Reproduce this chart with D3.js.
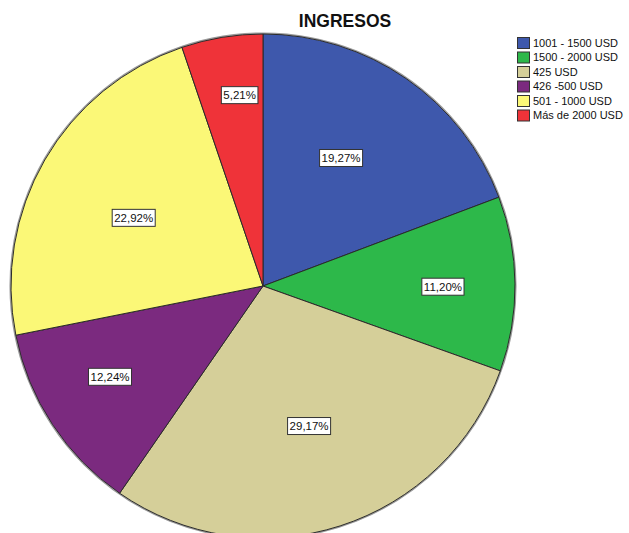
<!DOCTYPE html>
<html>
<head>
<meta charset="utf-8">
<script src="https://cdn.jsdelivr.net/npm/d3@7"></script>
<style>
  html, body { margin: 0; padding: 0; background: #fff; }
  svg { display: block; }
</style>
</head>
<body>
<svg id="chart" width="629" height="533"></svg>
<script>
// Income brackets, in clockwise drawing order starting at 12 o'clock
const categories = ["1001 - 1500 USD", "1500 - 2000 USD", "425 USD", "426 -500 USD", "501 - 1000 USD", "Más de 2000 USD"];
const percentages = [19.27, 11.20, 29.17, 12.24, 22.92, 5.21];
const colors = ["#3E58AC", "#2DB84A", "#D5CF99", "#7B2A7F", "#FBF877", "#EF3339"];

// Legend listing order
const legendOrder = ["1001 - 1500 USD", "1500 - 2000 USD", "425 USD", "426 -500 USD", "501 - 1000 USD", "Más de 2000 USD"];

// Label placement: distance from the centre (share of radius) and a small angular nudge (degrees)
const labelRadius = [0.595, 0.714, 0.585, 0.706, 0.58, 0.763];
const labelNudge = [-3.3, 0.7, -0.4, 2.6, -2.2, 2.4];

const svg = d3.select("#chart");
const cx = 263, cy = 286, R = 252;

const color = d3.scaleOrdinal().domain(categories).range(colors);

const slices = categories.map((c, i) => ({ cat: c, value: percentages[i], lr: labelRadius[i], ln: labelNudge[i] }));

const pie = d3.pie().value(d => d.value).sort(null);
const arc = d3.arc().innerRadius(0).outerRadius(R);
const arcs = pie(slices);

const g = svg.append("g").attr("transform", `translate(${cx},${cy})`);

// soft outer shadow along the rim
g.append("circle")
  .attr("r", R + 0.8)
  .attr("fill", "none")
  .attr("stroke", "#999")
  .attr("stroke-width", 1.5);

g.selectAll("path.slice")
  .data(arcs)
  .join("path")
  .attr("class", "slice")
  .attr("d", arc)
  .attr("fill", d => color(d.data.cat))
  .attr("stroke", "#2a2a2a")
  .attr("stroke-width", 1)
  .attr("stroke-linejoin", "round");

const fmt = v => v.toFixed(2).replace(".", ",") + "%";

const labels = g.selectAll("g.lbl")
  .data(arcs)
  .join("g")
  .attr("class", "lbl")
  .attr("transform", d => {
    const a = (d.startAngle + d.endAngle) / 2 + d.data.ln * Math.PI / 180;
    const r = R * d.data.lr;
    return `translate(${r * Math.sin(a)},${-r * Math.cos(a)})`;
  });

labels.each(function(d) {
  const s = d3.select(this);
  const t = s.append("text")
    .attr("text-anchor", "middle")
    .attr("dy", "0.35em")
    .attr("font-family", "Arial, 'Liberation Sans', sans-serif")
    .attr("font-size", 11.5)
    .attr("fill", "#111")
    .text(fmt(d.data.value));
  const bb = t.node().getBBox();
  s.insert("rect", "text")
    .attr("x", bb.x - 2)
    .attr("y", -8.5)
    .attr("width", bb.width + 4)
    .attr("height", 17)
    .attr("fill", "#fff")
    .attr("stroke", "#333")
    .attr("stroke-width", 1);
});

// Title
svg.append("text")
  .attr("x", 345)
  .attr("y", 27)
  .attr("text-anchor", "middle")
  .attr("font-family", "Arial, 'Liberation Sans', sans-serif")
  .attr("font-weight", "bold")
  .attr("font-size", 17.5)
  .attr("fill", "#111")
  .text("INGRESOS");

// Legend
const legend = svg.append("g").attr("transform", "translate(517,43)");
const rowH = 14.5;
const items = legend.selectAll("g")
  .data(legendOrder)
  .join("g")
  .attr("transform", (d, i) => `translate(0,${i * rowH})`);

items.append("rect")
  .attr("x", 0.5)
  .attr("y", -5.5)
  .attr("width", 12)
  .attr("height", 11)
  .attr("fill", d => color(d))
  .attr("stroke", "#333")
  .attr("stroke-width", 1);

items.append("text")
  .attr("x", 16)
  .attr("dy", "0.35em")
  .attr("font-family", "Arial, 'Liberation Sans', sans-serif")
  .attr("font-size", 11)
  .attr("fill", "#111")
  .text(d => d);
</script>
</body>
</html>
